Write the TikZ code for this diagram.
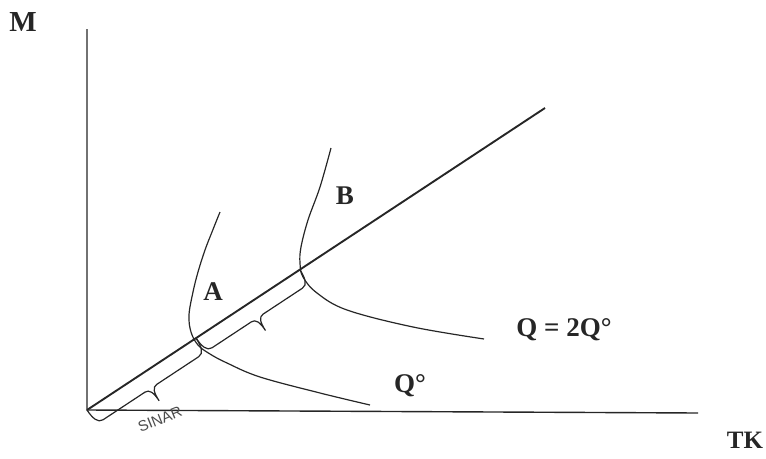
\documentclass[tikz,border=0pt]{standalone}
\usepackage{fontspec}
\setmainfont{Liberation Serif}
\setsansfont{Liberation Sans}

\tikzset{pics/accolade/.style={code={
  \draw[acco] (0,0) .. controls (0,10) and (2,17) .. (8,17)
    -- (#1/2-7,17) .. controls (#1/2-2,17) and (#1/2,22) .. (#1/2,32)
    .. controls (#1/2,22) and (#1/2+2,17) .. (#1/2+7,17)
    -- (#1-8,17) .. controls (#1-2,17) and (#1,10) .. (#1,0);
}}}

\begin{document}
\begin{tikzpicture}[x=1pt, y=-1pt,
      axe/.style={line width=1.4pt, color=black!85},
      rayon/.style={line width=1.9pt, color=black!85},
      isoq/.style={line width=1.2pt, color=black!85},
      acco/.style={line width=1.2pt, color=black!85},
      etiq/.style={font=\fontsize{27}{29}\selectfont\bfseries, color=black!85},
      manus/.style={font=\fontsize{15}{16}\selectfont\sffamily, color=black!70}]
    \useasboundingbox (0,0) rectangle (766,458);
    % axes et rayon
    \coordinate (O)    at (87,410);
    \coordinate (Mtop) at (87,29);
    \coordinate (Xend) at (698,413);
    \coordinate (R)    at (545,108);
    \coordinate (tA)   at (196,338);
    \coordinate (tB)   at (300,270);
    \draw[axe] (Mtop) -- (O) -- (Xend);
    \draw[rayon] (O) -- (R);
    % isoquants
    \draw[isoq] plot[smooth, tension=0.6] coordinates {(220,212) (212,232) (205,250)
      (198,272) (193,292) (189,315) (191,332) (198,345) (210,354) (227,363)
      (260,377) (320,393) (370,405)};
    \draw[isoq] plot[smooth, tension=0.6] coordinates {(331,148) (320,187) (308,220)
      (301,247) (300,263) (303,277) (317,293) (347,310) (413,327) (484,339)};
    % accolades
    \pic[rotate=33.4] at (O)  {accolade=130.6};
    \pic[rotate=33.4] at (tA) {accolade=124.3};
    % textes
    \node[etiq, font=\fontsize{29}{31}\selectfont\bfseries] (lM) at (23,22) {M};
    \node[etiq, font=\fontsize{25}{27}\selectfont\bfseries] (lTK) at (745,440) {TK};
    \node[etiq] (lA)  at (213,292) {A};
    \node[etiq] (lB)  at (345,196) {B};
    \node[etiq] (lQ2) at (564,330) {Q = 2Q°};
    \node[etiq] (lQ)  at (410,386) {Q°};
    \node[manus, rotate=22] (lS) at (160,419) {SINAR};
  \end{tikzpicture}
\end{document}
